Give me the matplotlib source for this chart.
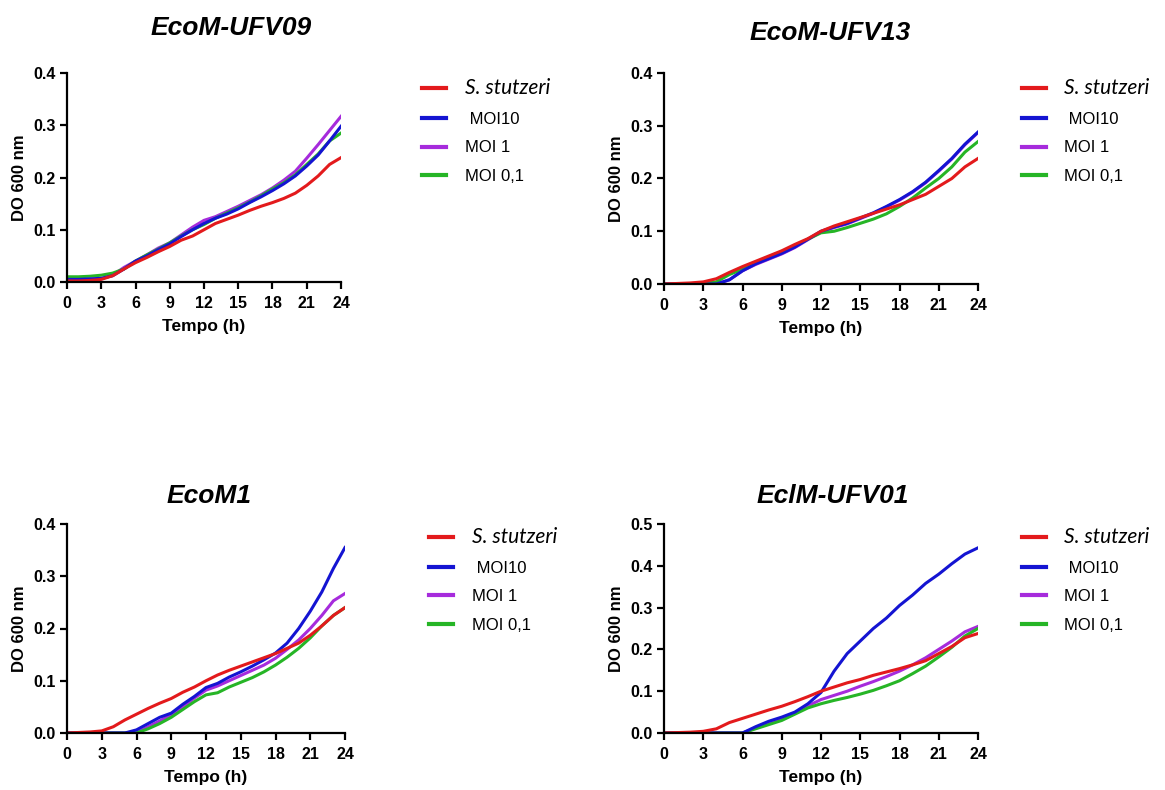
import matplotlib
matplotlib.use("Agg")
import matplotlib.pyplot as plt

plt.rcParams['font.family'] = ['Liberation Sans', 'DejaVu Sans']

# tempo (h)
t = [0, 1, 2, 3, 4, 5, 6, 7, 8, 9, 10, 11, 12, 13, 14, 15, 16, 17, 18, 19, 20, 21, 22, 23, 24]

labels = ["S. stutzeri", " MOI10", "MOI 1", "MOI 0,1"]
colors = ["#e31a1c", "#1414d2", "#a62bdc", "#26b526"]

# EcoM-UFV09
ufv09_ss = [0.002, 0.002, 0.003, 0.005, 0.012, 0.025, 0.037, 0.047, 0.058, 0.068, 0.080, 0.088, 0.100,
            0.112, 0.120, 0.128, 0.137, 0.145, 0.152, 0.160, 0.170, 0.185, 0.203, 0.225, 0.238]
ufv09_m10 = [0.005, 0.005, 0.006, 0.007, 0.012, 0.025, 0.040, 0.050, 0.062, 0.073, 0.087, 0.100, 0.112,
             0.122, 0.130, 0.140, 0.152, 0.163, 0.175, 0.188, 0.203, 0.222, 0.243, 0.270, 0.298]
ufv09_m1 = [0.003, 0.003, 0.004, 0.006, 0.013, 0.028, 0.040, 0.052, 0.065, 0.075, 0.090, 0.105, 0.118,
            0.125, 0.135, 0.145, 0.156, 0.167, 0.180, 0.195, 0.212, 0.237, 0.263, 0.290, 0.317]
ufv09_m01 = [0.010, 0.010, 0.011, 0.013, 0.017, 0.025, 0.040, 0.052, 0.063, 0.075, 0.088, 0.100, 0.110,
             0.122, 0.132, 0.142, 0.153, 0.165, 0.178, 0.190, 0.205, 0.225, 0.245, 0.270, 0.285]

# EcoM-UFV13
ufv13_ss = [0.000, 0.001, 0.002, 0.004, 0.010, 0.022, 0.033, 0.043, 0.053, 0.063, 0.075, 0.086, 0.100,
            0.110, 0.118, 0.126, 0.134, 0.142, 0.150, 0.160, 0.170, 0.185, 0.200, 0.222, 0.238]
ufv13_m10 = [0.000, 0.000, 0.000, 0.000, 0.000, 0.008, 0.025, 0.038, 0.048, 0.058, 0.070, 0.085, 0.100,
             0.108, 0.115, 0.125, 0.135, 0.147, 0.160, 0.175, 0.193, 0.215, 0.238, 0.265, 0.288]
ufv13_m1 = [0.000, 0.000, 0.000, 0.000, 0.000, 0.008, 0.025, 0.037, 0.047, 0.057, 0.069, 0.084, 0.099,
            0.107, 0.114, 0.124, 0.134, 0.146, 0.159, 0.174, 0.192, 0.214, 0.237, 0.264, 0.287]
ufv13_m01 = [0.000, 0.000, 0.000, 0.001, 0.004, 0.018, 0.028, 0.040, 0.050, 0.060, 0.072, 0.085, 0.097,
             0.100, 0.107, 0.115, 0.123, 0.133, 0.147, 0.163, 0.182, 0.200, 0.222, 0.250, 0.270]

# EcoM1
ecom1_ss = [0.000, 0.001, 0.002, 0.004, 0.012, 0.025, 0.036, 0.047, 0.057, 0.066, 0.078, 0.088, 0.100,
            0.111, 0.120, 0.128, 0.136, 0.144, 0.152, 0.162, 0.172, 0.187, 0.205, 0.225, 0.240]
ecom1_m10 = [0.000, 0.000, 0.000, 0.000, 0.000, 0.000, 0.006, 0.018, 0.030, 0.038, 0.055, 0.070, 0.087,
             0.095, 0.107, 0.117, 0.128, 0.140, 0.153, 0.172, 0.200, 0.233, 0.270, 0.315, 0.355]
ecom1_m1 = [0.000, 0.000, 0.000, 0.000, 0.000, 0.000, 0.000, 0.012, 0.023, 0.035, 0.050, 0.067, 0.082,
            0.090, 0.100, 0.110, 0.120, 0.130, 0.143, 0.160, 0.178, 0.200, 0.225, 0.253, 0.267]
ecom1_m01 = [0.000, 0.000, 0.000, 0.000, 0.000, 0.000, 0.000, 0.008, 0.018, 0.030, 0.045, 0.060, 0.073,
             0.077, 0.088, 0.097, 0.106, 0.117, 0.130, 0.145, 0.162, 0.182, 0.205, 0.225, 0.240]

# EclM-UFV01
eclm_ss = [0.000, 0.001, 0.002, 0.004, 0.010, 0.025, 0.035, 0.045, 0.055, 0.064, 0.075, 0.087, 0.100,
           0.110, 0.120, 0.128, 0.138, 0.146, 0.154, 0.163, 0.173, 0.190, 0.207, 0.228, 0.238]
eclm_m10 = [0.000, 0.000, 0.000, 0.000, 0.000, 0.000, 0.000, 0.015, 0.028, 0.038, 0.050, 0.070, 0.097,
            0.148, 0.190, 0.220, 0.250, 0.275, 0.305, 0.330, 0.358, 0.380, 0.405, 0.428, 0.443]
eclm_m1 = [0.000, 0.000, 0.000, 0.000, 0.000, 0.000, 0.000, 0.012, 0.025, 0.035, 0.048, 0.065, 0.080,
           0.090, 0.100, 0.112, 0.123, 0.135, 0.148, 0.163, 0.180, 0.200, 0.220, 0.242, 0.255]
eclm_m01 = [0.000, 0.000, 0.000, 0.000, 0.000, 0.000, 0.000, 0.010, 0.020, 0.030, 0.045, 0.060, 0.070,
            0.078, 0.085, 0.093, 0.102, 0.113, 0.125, 0.142, 0.160, 0.182, 0.205, 0.232, 0.250]

W, H = 1165.0, 790.0

# name, series, ymax, axes box in pixels (left, top, right, bottom), title centre px, legend anchor px
panels = [
    ("EcoM-UFV09", [ufv09_ss, ufv09_m10, ufv09_m1, ufv09_m01], 0.4, (67, 73, 341, 282), (231, 28), (422, 78)),
    ("EcoM-UFV13", [ufv13_ss, ufv13_m10, ufv13_m1, ufv13_m01], 0.4, (664, 73, 978, 284), (830, 33), (1022, 78)),
    ("EcoM1", [ecom1_ss, ecom1_m10, ecom1_m1, ecom1_m01], 0.4, (67, 524, 345, 733), (209, 496), (429, 527)),
    ("EclM-UFV01", [eclm_ss, eclm_m10, eclm_m1, eclm_m01], 0.5, (664, 524, 978, 733), (833, 496), (1022, 527)),
]

fig = plt.figure(figsize=(11.65, 7.9), dpi=100)

for name, series, ymax, box, tpos, lpos in panels:
    l, tp, r, b = box
    ax = fig.add_axes([l / W, 1 - b / H, (r - l) / W, (b - tp) / H])
    handles = {}
    for k in [2, 3, 1, 0]:
        ln, = ax.plot(t, series[k], color=colors[k], lw=2.2, label=labels[k])
        handles[k] = ln
    ax.set_xlim(0, 24)
    ax.set_ylim(0, ymax)
    ax.set_xticks(range(0, 25, 3))
    n = int(round(ymax * 10))
    ax.set_yticks([j / 10 for j in range(n + 1)])
    ax.set_yticklabels(["%.1f" % (j / 10) for j in range(n + 1)])
    for lab in ax.get_xticklabels() + ax.get_yticklabels():
        lab.set_fontweight('bold')
        lab.set_fontsize(11.5)
    ax.spines['top'].set_visible(False)
    ax.spines['right'].set_visible(False)
    ax.spines['left'].set_linewidth(1.6)
    ax.spines['bottom'].set_linewidth(1.6)
    ax.tick_params(width=1.6, length=5, pad=3)
    ax.tick_params(axis='x', pad=5)
    ax.set_xlabel("Tempo (h)", fontsize=12.5, fontweight='bold', labelpad=6)
    ax.set_ylabel("DO 600 nm", fontsize=12, fontweight='bold', labelpad=5)

    fig.text(tpos[0] / W, 1 - tpos[1] / H, name, fontsize=19, fontweight='bold',
             fontstyle='italic', ha='center', va='center')

    leg = ax.legend([handles[k] for k in range(4)], labels, loc='upper left',
                    bbox_to_anchor=(lpos[0] / W, 1 - lpos[1] / H), bbox_transform=fig.transFigure,
                    frameon=False, borderpad=0, borderaxespad=0,
                    handlelength=1.45, handletextpad=1.1,
                    labelspacing=0.82, fontsize=12)
    for ln in leg.get_lines():
        ln.set_linewidth(3)
    txts = leg.get_texts()
    txts[0].set_fontstyle('italic')
    txts[0].set_fontfamily(['Lato', 'DejaVu Sans'])
    txts[0].set_fontsize(15)

fig.savefig("out.png", dpi=100)
